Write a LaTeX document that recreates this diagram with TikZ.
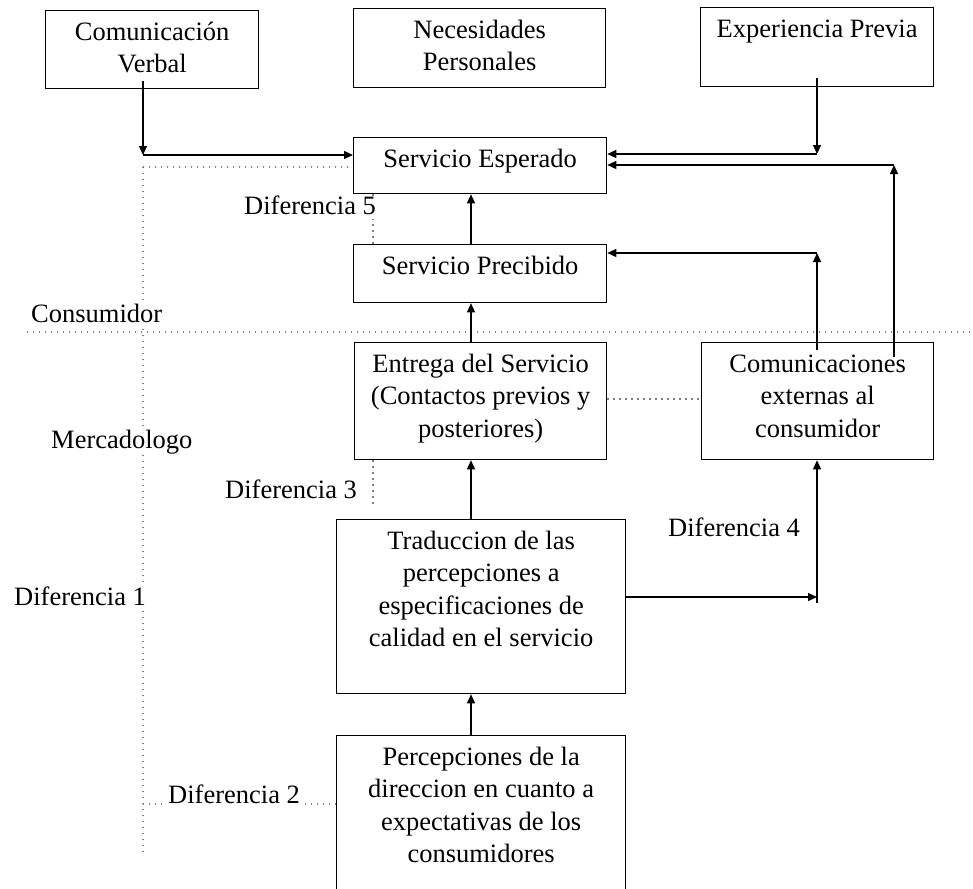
\documentclass[tikz,border=0pt]{standalone}
\usepackage{fontspec}
\setmainfont{Liberation Serif}
\usetikzlibrary{arrows.meta,calc}
% top-aligned, centred text block of a fixed size
\newcommand\flowtext[3]{\parbox[t][#2][t]{#1}{\centering\rule{0pt}{29.5pt}#3}}
\begin{document}
\begin{tikzpicture}[x=1pt,y=-1pt,
  font=\fontsize{26.5}{32.5}\selectfont,
  flowbox/.style={draw, line width=1.3pt, inner sep=0pt, anchor=north west},
  arr/.style={line width=1.3pt, -{Triangle[length=9pt,width=8pt]}},
  dotline/.style={draw=black!50, line width=1.3pt, dash pattern=on 1.3pt off 4.7pt},
  tag/.style={anchor=base west, fill=white, inner xsep=1pt, inner ysep=0pt,
              text height=18.5pt, text depth=5pt}]
\useasboundingbox (0,0) rectangle (973,888);

% boxes
\node[flowbox] (cv) at (45,10)  {\flowtext{213pt}{78pt}{Comunicación\\Verbal}};
\node[flowbox] (np) at (353,8)  {\flowtext{252pt}{79pt}{Necesidades\\Personales}};
\node[flowbox] (ep) at (700,7)  {\flowtext{233pt}{79pt}{Experiencia Previa}};
\node[flowbox] (se) at (353,137) {\flowtext{253pt}{56pt}{Servicio Esperado}};
\node[flowbox] (sp) at (353,244) {\flowtext{253pt}{58pt}{Servicio Precibido}};
\node[flowbox] (es) at (354,342) {\flowtext{252pt}{117pt}{Entrega del Servicio\\(Contactos previos y\\posteriores)}};
\node[flowbox] (ce) at (701,342) {\flowtext{232pt}{117pt}{Comunicaciones\\externas al\\consumidor}};
\node[flowbox] (tr) at (336,519) {\flowtext{289pt}{174pt}{Traduccion de las\\percepciones a\\especificaciones de\\calidad en el servicio}};
\node[flowbox] (pe) at (336,735) {\flowtext{289pt}{180pt}{Percepciones de la\\direccion en cuanto a\\expectativas de los\\consumidores}};

% helper points
\coordinate (cx) at (471,0);
\coordinate (dx) at (373,0);
\coordinate (j1) at (143,155);
\coordinate (j2) at (817,154);
\coordinate (j3) at (894,165);
\coordinate (j4) at (817,253);
\coordinate (j5) at (817,597);
\coordinate (j5b) at (817,603);
\coordinate (vtop) at (143,167);
\coordinate (vbot) at (143,853);
\coordinate (hl) at (27,332);
\coordinate (hr) at (973,332);
\coordinate (dy) at (0,399);
\coordinate (d3) at (373,505);
\coordinate (d2) at (143,804);

% dotted guide lines
\draw[dotline] (hl) -- (hr);
\draw[dotline] (vtop) -- (vbot);
\draw[dotline] (vtop) -- (se.west |- vtop);
\draw[dotline] (es.east |- dy) -- (ce.west |- dy);
\draw[dotline] (se.south -| dx) -- (sp.north -| dx);
\draw[dotline] (es.south -| dx) -- (d3);
\draw[dotline] (d2) -- (pe.west |- d2);

% labels
\node[tag] (lc)  at (30,322)  {Consumidor};
\node[tag] (lm)  at (50,448)  {Mercadologo};
\node[tag] (ld1) at (13,605)  {Diferencia 1};
\node[tag] (ld5) at (243,214) {Diferencia 5};
\node[tag] (ld3) at (224,498) {Diferencia 3};
\node[tag] (ld4) at (667,536) {Diferencia 4};
\node[tag] (ld2) at (167,803) {Diferencia 2};

% connectors (feeder lines start a little inside their source box)
\draw[arr] ($(cv.south -| j1)+(0,-8)$) -- (j1);
\draw[arr] (j1) -- (se.west |- j1);
\draw[arr] ($(ep.south -| j2)+(0,-9)$) -- (j2);
\draw[arr] (j2) -- (se.east |- j2);
\draw[arr] ($(ce.north -| j3)+(0,15)$) -- (j3);
\draw[arr] (j3) -- (se.east |- j3);
\draw[arr] ($(ce.north -| j4)+(0,8)$) -- (j4);
\draw[arr] (j4) -- (sp.east |- j4);
\draw[arr] (sp.north -| cx) -- (se.south -| cx);
\draw[arr] (es.north -| cx) -- (sp.south -| cx);
\draw[arr] (tr.north -| cx) -- (es.south -| cx);
\draw[arr] (pe.north -| cx) -- (tr.south -| cx);
\draw[arr] (tr.east |- j5) -- (j5);
\draw[arr] (j5b) -- (ce.south -| j5b);
\end{tikzpicture}
\end{document}
